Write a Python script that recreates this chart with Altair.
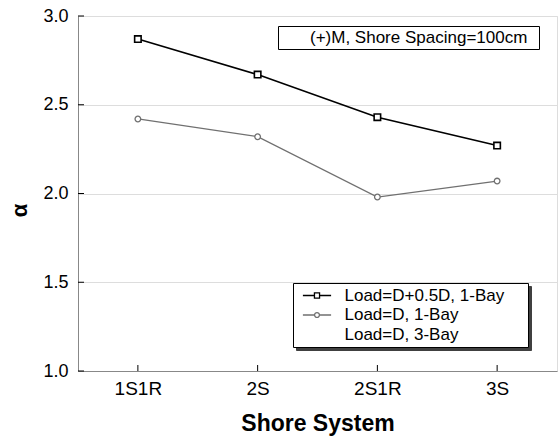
import altair as alt
import pandas as pd

# ---- data ----
systems = ["1S1R", "2S", "2S1R", "3S"]
series_names = ["Load=D+0.5D, 1-Bay", "Load=D, 1-Bay", "Load=D, 3-Bay"]
alpha_d05d_1bay = [2.87, 2.67, 2.43, 2.27]
alpha_d_1bay = [2.42, 2.32, 1.98, 2.07]
note_text = ["(+)M, Shore Spacing=100cm"]
y_ticks = [1.0, 1.5, 2.0, 2.5, 3.0]

rows = []
for s, v in zip(systems, alpha_d05d_1bay):
    rows.append({"system": s, "alpha": v, "series": series_names[0]})
for s, v in zip(systems, alpha_d_1bay):
    rows.append({"system": s, "alpha": v, "series": series_names[1]})
df = pd.DataFrame(rows)
ytick_df = pd.DataFrame({"alpha": y_ticks})
xtick_df = pd.DataFrame({"system": systems})
note_df = pd.DataFrame({"note": note_text})
# drop-shadow boxes behind the two legend boxes (one row per legend entry, no text shown)
shadow_series_df = pd.DataFrame({"shadow_row": ["row-1", "row-2", "row-3"]})
shadow_note_df = pd.DataFrame({"shadow_note": ["row-1"]})

FONT = "Liberation Sans"
W, H = 479, 355
SHADOW = "#404040"

series_colors = ["#000000", "#707070", "#ffffff"]
color_scale = alt.Scale(domain=series_names, range=series_colors)
shape_scale = alt.Scale(domain=series_names, range=["square", "circle", "circle"])
x_scale = alt.Scale(type="point", domain=systems, padding=0.5)
y_scale = alt.Scale(domain=[1.0, 3.0], nice=False, zero=False)

x_enc = alt.X(
    "system:N", sort=systems, scale=x_scale,
    axis=alt.Axis(
        title="Shore System", labelAngle=0, labelFontSize=19, labelPadding=8,
        ticks=False, titleFontSize=23, titleFontWeight="bold", titlePadding=14,
    ),
)
y_enc = alt.Y(
    "alpha:Q", scale=y_scale,
    axis=alt.Axis(
        title="α", values=y_ticks, format=".1f", labelFontSize=18, labelPadding=10,
        ticks=False, titleFontSize=22, titleFontWeight="bold", titlePadding=11,
        titleY=194,
    ),
)

# legend symbol paths: dash - marker - dash; the empty third entry only widens the box
p_sq = "M-4.7,0H-0.85M0.85,0H4.7M-0.85,-0.85H0.85V0.85H-0.85Z"
p_ci = "M-4.7,0H-0.8M0.8,0H4.7M-0.8,0A0.8,0.8,0,1,1,0.8,0A0.8,0.8,0,1,1,-0.8,0"
p_none = "M0,0H68"
p_note = "M0,0H246"
legend_shape_scale = alt.Scale(domain=series_names, range=[p_sq, p_ci, p_none])

LX, LY = 215, 267
NX, NY = 200, 10

common_series = dict(
    title=None, orient="none", labelFont=FONT, labelFontSize=17, padding=4,
    symbolSize=36, symbolStrokeWidth=1.3, symbolOffset=11.5, labelOffset=19, rowPadding=1.5,
)
common_note = dict(
    title=None, orient="none", labelFont=FONT, labelFontSize=17, padding=3,
    symbolSize=4, symbolStrokeWidth=0, labelOffset=12, labelLimit=400,
)

series_legend = alt.Legend(
    legendX=LX, legendY=LY, labelColor="black", strokeColor="black", fillColor="white",
    symbolFillColor="transparent", zindex=2, **common_series,
)
series_shadow_legend = alt.Legend(
    legendX=LX + 3, legendY=LY + 3, labelExpr="''", strokeColor=SHADOW, fillColor=SHADOW,
    symbolType=p_none, zindex=1, **common_series,
)
note_legend = alt.Legend(
    legendX=NX, legendY=NY, labelColor="black", strokeColor="black", fillColor="white",
    symbolType=p_note, symbolOpacity=0, zindex=2, **common_note,
)
note_shadow_legend = alt.Legend(
    legendX=NX + 3, legendY=NY + 3, labelExpr="''", strokeColor=SHADOW, fillColor=SHADOW,
    symbolType=p_note, symbolOpacity=0, zindex=1, **common_note,
)

lines = alt.Chart(df).mark_line().encode(
    x=x_enc,
    y=y_enc,
    color=alt.Color("series:N", scale=color_scale, legend=None),
    strokeWidth=alt.StrokeWidth(
        "series:N", scale=alt.Scale(domain=series_names, range=[1.6, 1.0, 1.0]), legend=None
    ),
)

points = alt.Chart(df).mark_point(filled=False, fill="white", fillOpacity=1, opacity=1).encode(
    x=x_enc,
    y=y_enc,
    color=alt.Color("series:N", scale=color_scale, legend=None),
    shape=alt.Shape("series:N", scale=shape_scale, legend=None),
    size=alt.Size("series:N", scale=alt.Scale(domain=series_names, range=[42, 22, 0]), legend=None),
    strokeWidth=alt.StrokeWidth(
        "series:N", scale=alt.Scale(domain=series_names, range=[1.6, 1.0, 1.0]), legend=None
    ),
)

# legend-only layers (placed off the plot and clipped)
legend_layer = alt.Chart(df).mark_point(filled=False, size=36, clip=True, opacity=1).encode(
    x=alt.value(-120),
    y=alt.value(-120),
    color=alt.Color("series:N", scale=color_scale, legend=series_legend),
    shape=alt.Shape("series:N", scale=legend_shape_scale, legend=series_legend),
)
note_layer = alt.Chart(note_df).mark_point(clip=True).encode(
    x=alt.value(-120),
    y=alt.value(-120),
    strokeDash=alt.StrokeDash("note:N", scale=alt.Scale(range=[[1, 0]]), legend=note_legend),
)
series_shadow_layer = alt.Chart(shadow_series_df).mark_point(
    clip=True, color="transparent", size=36
).encode(
    x=alt.value(-120),
    y=alt.value(-120),
    opacity=alt.Opacity("shadow_row:N", scale=alt.Scale(range=[1, 1, 1]), legend=series_shadow_legend),
)
note_shadow_layer = alt.Chart(shadow_note_df).mark_point(
    clip=True, color="transparent", size=4
).encode(
    x=alt.value(-120),
    y=alt.value(-120),
    fillOpacity=alt.FillOpacity("shadow_note:N", scale=alt.Scale(range=[1]), legend=note_shadow_legend),
)

# inward tick marks on the left and bottom axes
yticks = alt.Chart(ytick_df).mark_rule(color="black", strokeWidth=1).encode(
    y=alt.Y("alpha:Q", scale=y_scale), x=alt.value(0), x2=alt.value(6)
)
xticks = alt.Chart(xtick_df).mark_rule(color="black", strokeWidth=1).encode(
    x=alt.X("system:N", sort=systems, scale=x_scale), y=alt.value(H), y2=alt.value(H - 6)
)

chart = (
    alt.layer(
        lines, points, yticks, xticks,
        series_shadow_layer, note_shadow_layer, legend_layer, note_layer,
    )
    .resolve_scale(color="independent", shape="independent")
    .properties(
        width=W, height=H,
        autosize=alt.AutoSizeParams(type="none"),
        padding={"left": 78, "top": 16, "right": 2, "bottom": 68},
    )
    .configure_view(stroke="black", strokeWidth=1)
    .configure_axis(
        grid=False, domainColor="black", domainWidth=1,
        labelColor="black", titleColor="black", labelFont=FONT, titleFont=FONT,
    )
    .configure(background="white")
)

chart.save("out.html", embed_options={"renderer": "svg", "actions": False})
